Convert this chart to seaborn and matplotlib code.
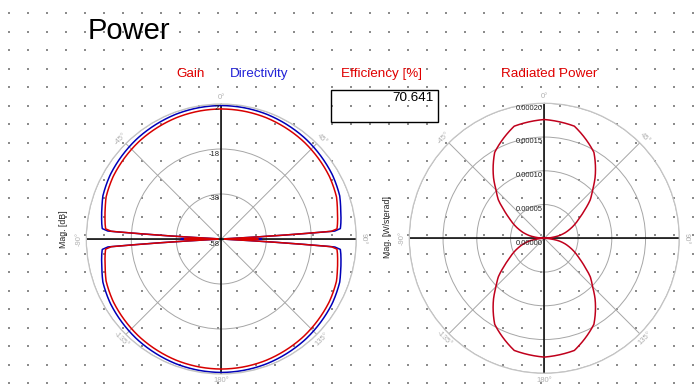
import numpy as np
import matplotlib
matplotlib.use("Agg")
import matplotlib.pyplot as plt
from matplotlib.patches import Rectangle
import seaborn as sns

# ---------------- data ----------------
angles_db = [0, 10, 20, 30, 40, 45, 50, 55, 60, 65, 70, 75, 80, 83, 85, 86, 87, 88, 89, 90,
             91, 92, 93, 94, 95, 97, 100, 105, 110, 115, 120, 125, 130, 135, 140, 150, 160, 170, 180,
             190, 200, 210, 220, 225, 230, 235, 240, 245, 250, 255, 260, 263, 265, 266, 267, 268, 269, 270,
             271, 272, 273, 274, 275, 277, 280, 285, 290, 295, 300, 305, 310, 315, 320, 330, 340, 350, 360]
gain_db = [-0.2, -0.3, -0.5, -0.9, -1.3, -1.6, -1.9, -2.2, -2.5, -3.0, -3.5, -4.6, -5.5, -6.0, -6.4, -9.0, -56.5, -55.5, -55.0, -41.6,
           -55.0, -55.5, -56.5, -9.0, -6.4, -6.0, -5.5, -4.6, -3.5, -3.0, -2.5, -2.2, -1.9, -1.6, -1.3, -0.9, -0.5, -0.3, -0.2,
           -0.3, -0.5, -0.9, -1.3, -1.6, -1.9, -2.2, -2.5, -3.0, -3.5, -4.6, -5.5, -6.0, -6.4, -9.0, -56.5, -55.5, -55.0, -41.6,
           -55.0, -55.5, -56.5, -9.0, -6.4, -6.0, -5.5, -4.6, -3.5, -3.0, -2.5, -2.2, -1.9, -1.6, -1.3, -0.9, -0.5, -0.3, -0.2]
directivity_db = [1.31, 1.21, 1.01, 0.61, 0.21, -0.09, -0.39, -0.69, -0.99, -1.49, -1.99, -3.09, -3.99, -4.49, -4.89, -7.49, -56.0, -55.0, -54.5, -40.1,
                  -54.5, -55.0, -56.0, -7.49, -4.89, -4.49, -3.99, -3.09, -1.99, -1.49, -0.99, -0.69, -0.39, -0.09, 0.21, 0.61, 1.01, 1.21, 1.31,
                  1.21, 1.01, 0.61, 0.21, -0.09, -0.39, -0.69, -0.99, -1.49, -1.99, -3.09, -3.99, -4.49, -4.89, -7.49, -56.0, -55.0, -54.5, -40.1,
                  -54.5, -55.0, -56.0, -7.49, -4.89, -4.49, -3.99, -3.09, -1.99, -1.49, -0.99, -0.69, -0.39, -0.09, 0.21, 0.61, 1.01, 1.21, 1.31]

angles_pw = [0, 15, 30, 40, 45, 50, 55, 60, 70, 75, 80, 85, 90,
             95, 100, 105, 110, 120, 125, 130, 135, 140, 150, 165, 180,
             195, 210, 220, 225, 230, 235, 240, 250, 255, 260, 265, 270,
             275, 280, 285, 290, 300, 305, 310, 315, 320, 330, 345, 360]
rad_power = [1.76e-4, 1.72e-4, 1.47e-4, 1.17e-4, 1.01e-4, 0.89e-4, 0.73e-4, 0.60e-4, 0.41e-4, 0.32e-4, 0.22e-4, 0.08e-4, 0.0,
             0.08e-4, 0.22e-4, 0.32e-4, 0.41e-4, 0.60e-4, 0.73e-4, 0.89e-4, 1.01e-4, 1.17e-4, 1.47e-4, 1.72e-4, 1.76e-4,
             1.72e-4, 1.47e-4, 1.17e-4, 1.01e-4, 0.89e-4, 0.73e-4, 0.60e-4, 0.41e-4, 0.32e-4, 0.22e-4, 0.08e-4, 0.0,
             0.08e-4, 0.22e-4, 0.32e-4, 0.41e-4, 0.60e-4, 0.73e-4, 0.89e-4, 1.01e-4, 1.17e-4, 1.47e-4, 1.72e-4, 1.76e-4]

theta_ticks = [0, 45, 90, 135, 180, 225, 270, 315]
theta_labels = ["0°", "45°", "90°", "135°", "180°", "-135°", "-90°", "-45°"]
db_ticks = [-58, -38, -18, 2]
db_labels = ["-58", "-38", "-18", "2"]
pw_ticks = [0.0, 0.00005, 0.00010, 0.00015, 0.00020]
pw_labels = ["0.00000", "0.00005", "0.00010", "0.00015", "0.00020"]
efficiency = "70.641"

# ---------------- style ----------------
sns.set_theme(style="white")
plt.rcParams["font.family"] = ["Liberation Sans", "DejaVu Sans"]

W, H = 696, 388
fig = plt.figure(figsize=(W / 100, H / 100), dpi=100)
fig.patch.set_facecolor("white")

# dotted background grid
bg = fig.add_axes([0, 0, 1, 1])
bg.set_xlim(0, W)
bg.set_ylim(H, 0)
bg.axis("off")
gx, gy = np.meshgrid(np.arange(9, W, 19.0), np.arange(13, H, 18.5))
bg.scatter(gx.ravel(), gy.ravel(), s=1.2, c="#8c8c8c", marker="s", linewidths=0)


def smooth_last_line(ax):
    ln = ax.lines[-1]
    ln.recache_always()
    ln._path._interpolation_steps = 30
    ln._transformed_path = None


def polar_axes(cx, cy, rad):
    ax = fig.add_axes([(cx - rad) / W, (H - cy - rad) / H, 2 * rad / W, 2 * rad / H], projection="polar")
    ax.set_facecolor("none")
    ax.set_theta_zero_location("N")
    ax.set_theta_direction(-1)
    ax.set_xticks(np.deg2rad(theta_ticks))
    ax.set_xticklabels(theta_labels, fontsize=5.5, color="#b0b0b0")
    try:
        ax.tick_params(axis="x", labelrotation="auto", pad=-2.0, length=0)
    except Exception:
        ax.tick_params(axis="x", pad=-2.0, length=0)
    ax.tick_params(axis="y", length=0)
    ax.grid(True, color="#a6a6a6", lw=0.7)
    ax.spines["polar"].set_color("#c4c4c4")
    ax.spines["polar"].set_linewidth(0.9)
    for t in [0, 90, 180, 270]:
        ax.axvline(np.deg2rad(t), color="black", lw=1.1, zorder=1.5)
    return ax


# ---------------- left: Gain / Directivity ----------------
axL = polar_axes(221.3, 239, 135)
axL.set_ylim(-58, 2)
axL.set_yticks(db_ticks)
axL.set_yticklabels([])
sns.lineplot(x=np.deg2rad(angles_db), y=directivity_db, ax=axL, sort=False,
             estimator=None, color="#0000b8", lw=1.1)
smooth_last_line(axL)
sns.lineplot(x=np.deg2rad(angles_db), y=gain_db, ax=axL, sort=False,
             estimator=None, color="#d80000", lw=1.1)
smooth_last_line(axL)
for v, lab in zip(db_ticks, db_labels):
    axL.annotate(lab, xy=(0, v), xytext=(-1.5, -3.6), textcoords="offset points",
                 ha="right", va="center", fontsize=5.5, color="#222222")
axL.set_xlabel("")
axL.set_ylabel("")

# ---------------- right: Radiated Power ----------------
axR = polar_axes(544.3, 238.3, 135)
axR.set_ylim(0, 0.0002)
axR.set_yticks(pw_ticks)
axR.set_yticklabels([])
sns.lineplot(x=np.deg2rad(angles_pw), y=rad_power, ax=axR, sort=False,
             estimator=None, color="#c0001c", lw=1.1)
smooth_last_line(axR)
for v, lab in zip(pw_ticks, pw_labels):
    axR.annotate(lab, xy=(0, v), xytext=(-1.0, -3.4), textcoords="offset points",
                 ha="right", va="center", fontsize=5.5, color="#222222")
axR.set_xlabel("")
axR.set_ylabel("")

# ---------------- texts ----------------
fig.text(88 / W, 1 - 39 / H, "Power", fontsize=21, color="black", va="baseline", ha="left")
fig.text(190.5 / W, 1 - 74 / H, "Gain", fontsize=9.7, color="#e00000", ha="center", va="center")
fig.text(259.5 / W, 1 - 74 / H, "Directivity", fontsize=9.7, color="#2222d8", ha="center", va="center")
fig.text(381.5 / W, 1 - 74 / H, "Efficiency [%]", fontsize=9.7, color="#e00000", ha="center", va="center")
fig.text(549.5 / W, 1 - 74 / H, "Radiated Power", fontsize=9.7, color="#e00000", ha="center", va="center")

bg.add_patch(Rectangle((330.5, 89.5), 107, 32, fill=False, edgecolor="black", lw=1.0))
bg.text(434, 98, efficiency, fontsize=9.7, color="black", ha="right", va="center")

fig.text(64 / W, 1 - 229 / H, "Mag. [dB]", rotation=90, fontsize=6.3, ha="center", va="center")
fig.text(387 / W, 1 - 227 / H, "Mag. [W/sterad]", rotation=90, fontsize=6.3, ha="center", va="center")

fig.savefig("out.png", dpi=100, facecolor="white")
